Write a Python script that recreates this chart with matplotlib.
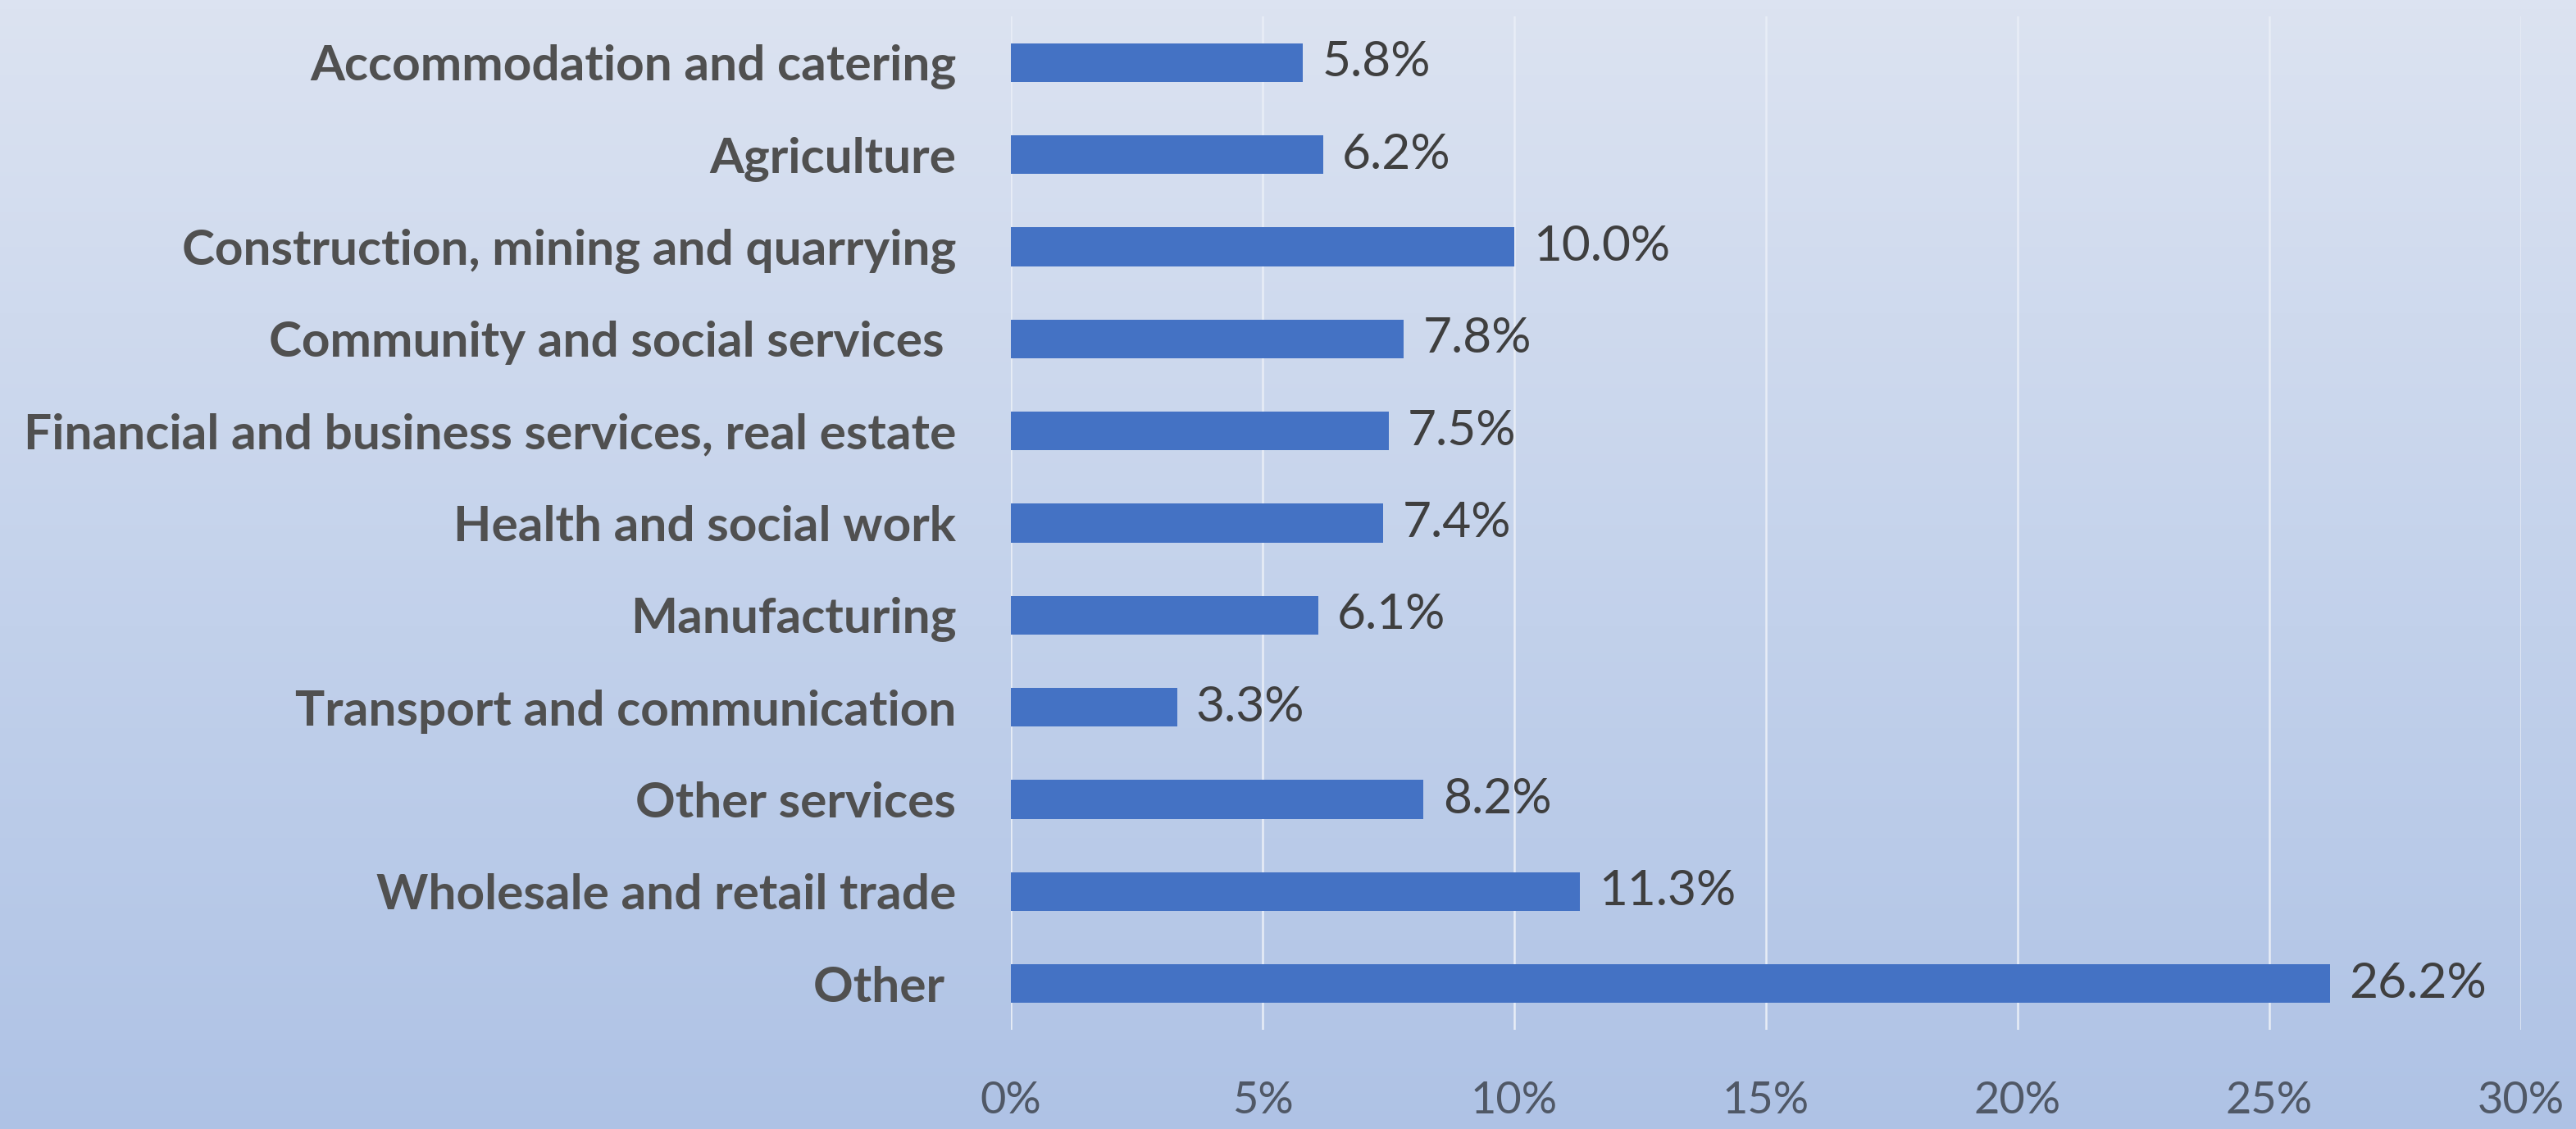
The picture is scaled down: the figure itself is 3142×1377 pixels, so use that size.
import numpy as np
import matplotlib
matplotlib.use("Agg")
import matplotlib.pyplot as plt
from matplotlib.colors import LinearSegmentedColormap

categories = [
    "Accommodation and catering",
    "Agriculture",
    "Construction, mining and quarrying",
    "Community and social services ",
    "Financial and business services, real estate",
    "Health and social work",
    "Manufacturing",
    "Transport and communication",
    "Other services",
    "Wholesale and retail trade",
    "Other ",
]
values = [5.8, 6.2, 10.0, 7.8, 7.5, 7.4, 6.1, 3.3, 8.2, 11.3, 26.2]
xticks = [0, 5, 10, 15, 20, 25, 30]
xtick_labels = ["0%", "5%", "10%", "15%", "20%", "25%", "30%"]

W, H = 3142, 1377
fig = plt.figure(figsize=(W / 100, H / 100), dpi=100)

# background gradient
bg = fig.add_axes([0, 0, 1, 1], zorder=-10)
cmap = LinearSegmentedColormap.from_list("bg", ["#dce3f1", "#c2d1eb", "#aabfe4"])
yy = np.linspace(0, 1, 256)[:, None]
xx = np.linspace(0, 1, 256)[None, :]
grad = 0.9 * yy + 0.0 * xx
bg.imshow(grad, cmap=cmap, aspect="auto", extent=[0, 1, 1, 0], vmin=0, vmax=1)
bg.set_axis_off()

ax = fig.add_axes([1233 / W, 1 - 1256 / H, (3075 - 1233) / W, (1256 - 20) / H])
ax.patch.set_alpha(0)
y = np.arange(len(categories))
ax.barh(y, values, height=0.42, color="#4472c4", zorder=3)
ax.set_xlim(0, 30)
ax.set_ylim(len(categories) - 0.5, -0.5)
ax.set_xticks(xticks)
ax.set_xticklabels(xtick_labels, fontsize=39, color="#505866", family="Lato")
ax.set_yticks(y)
ax.set_yticklabels(categories, fontsize=43.5, fontweight="bold", color="#505050", family="Lato")
ax.tick_params(axis="y", length=0, pad=48)
ax.tick_params(axis="x", length=0, pad=45)
ax.grid(axis="x", color="#e8edf6", linewidth=1.8, zorder=1)
for s in ax.spines.values():
    s.set_visible(False)

for yi, v in zip(y, values):
    ax.text(v + 0.38, yi, f"{v:.1f}%", va="center", ha="left", fontsize=43.5,
            color="#3f3f3f", family="Lato")

fig.savefig("out.png", dpi=100)
